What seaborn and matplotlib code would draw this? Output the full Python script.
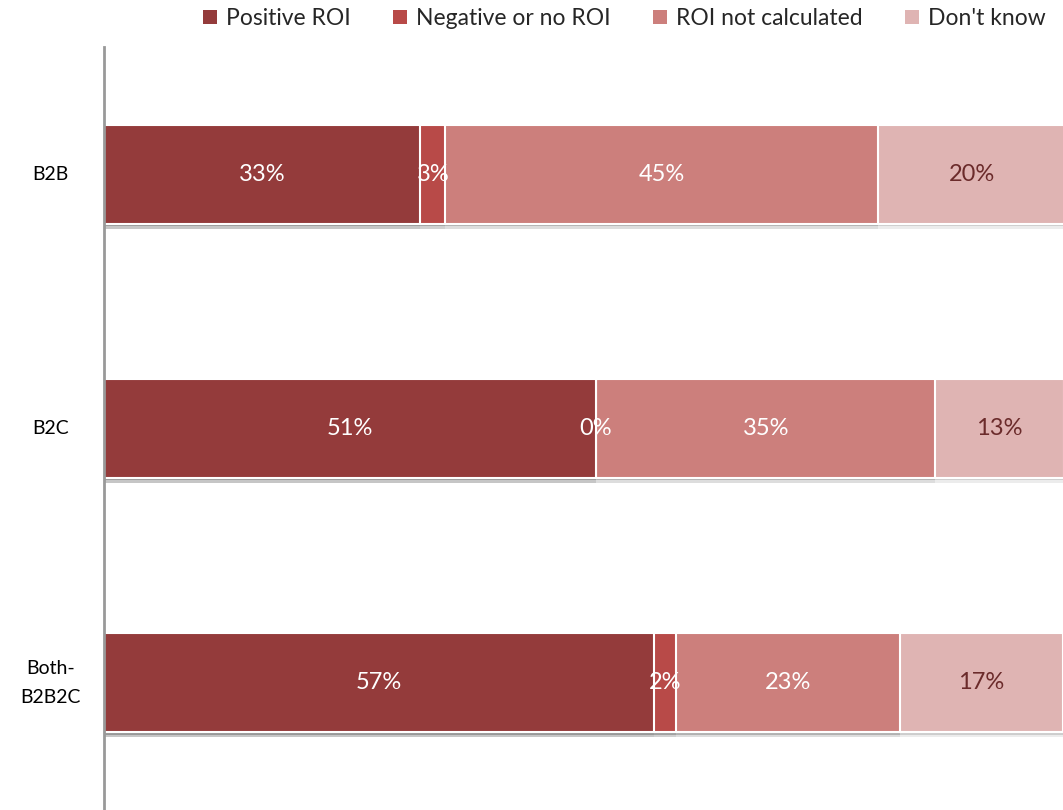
import numpy as np
import pandas as pd
import matplotlib
matplotlib.use("Agg")
import matplotlib.pyplot as plt
import matplotlib.patheffects as pe
from matplotlib.patches import Patch
import seaborn as sns

# data (percent of respondents)
categories = ["B2B", "B2C", "Both-B2B2C"]
cat_labels = ["B2B", "B2C", "Both-\nB2B2C"]
series = ["Positive ROI", "Negative or no ROI", "ROI not calculated", "Don't know"]
positive = [33.0, 51.3, 57.4]
negative = [2.6, 0.0, 2.2]
not_calc = [45.1, 35.4, 23.4]
dont_know = [19.6, 13.4, 17.0]

colors = ["#943b3b", "#b84a48", "#cc7f7c", "#dfb4b3"]
text_colors = ["white", "white", "white", "#6b2b2b"]

sns.set_theme(style="white")
plt.rcParams["font.family"] = ["Lato", "DejaVu Sans"]

df = pd.DataFrame({"category": categories,
                   series[0]: positive, series[1]: negative,
                   series[2]: not_calc, series[3]: dont_know})
cum = df[series].cumsum(axis=1)

fig = plt.figure(figsize=(10.63, 8.10), dpi=100)
ax = fig.add_axes([0.0978, 0.0, 0.9022, 0.942])

shadow = [pe.SimplePatchShadow(offset=(0, -3.5), shadow_rgbFace="#999999", alpha=0.18),
          pe.SimplePatchShadow(offset=(0, -1.5), shadow_rgbFace="#888888", alpha=0.3),
          pe.Normal()]

# stacked bars: draw cumulative totals from the outside in
for i in range(len(series) - 1, -1, -1):
    sns.barplot(x=cum[series[i]], y=df["category"], orient="h", color=colors[i],
                saturation=1, width=0.39, edgecolor="white", linewidth=1.5, ax=ax)
for p in ax.patches:
    p.set_path_effects(shadow)

# segment labels
for j, cat in enumerate(categories):
    left = 0.0
    for i, s in enumerate(series):
        v = df.loc[j, s]
        ax.text(left + v / 2, j, f"{round(v):d}%", ha="center", va="center",
                color=text_colors[i], fontsize=17)
        left += v

ax.set_xlim(0, 100)
ax.set_ylim(2.5, -0.5)
ax.set_xlabel("")
ax.set_ylabel("")
ax.set_xticks([])
ax.set_yticks(range(len(categories)))
ax.set_yticklabels([])
ax.tick_params(axis="y", length=0)
for j, lab in enumerate(cat_labels):
    ax.text(-0.056, j, lab, transform=ax.get_yaxis_transform(), ha="center", va="center",
            fontsize=14, color="black", linespacing=1.9)

for side in ["top", "right", "bottom"]:
    ax.spines[side].set_visible(False)
ax.spines["left"].set_color("#999999")
ax.spines["left"].set_linewidth(2)

handles = [Patch(facecolor=c, edgecolor="none") for c in colors]
fig.legend(handles, series, loc="upper left", bbox_to_anchor=(203 / 1063, 1 - 8 / 810), ncol=4,
           frameon=False, fontsize=16.5, handlelength=0.6, handleheight=0.6,
           handletextpad=0.4, columnspacing=1.85, borderpad=0, borderaxespad=0)

fig.savefig("out.png", dpi=100)
